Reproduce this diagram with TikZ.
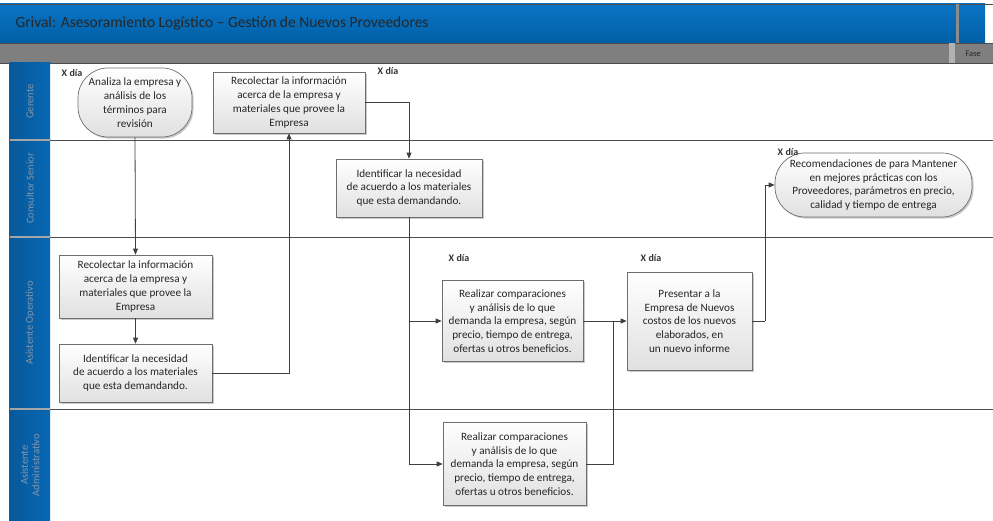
\documentclass[tikz,border=0pt]{standalone}
\usepackage{fontspec}
\setmainfont{Carlito}
\usetikzlibrary{arrows.meta,shadows}

\definecolor{bandtop}{HTML}{0A74C4}
\definecolor{bandbot}{HTML}{005FA6}
\definecolor{lanehead}{HTML}{0868B5}
\definecolor{phasegray}{HTML}{7F7F7F}
\definecolor{rulegray}{HTML}{4D4D4D}
\definecolor{flowline}{HTML}{3F3F3F}
\definecolor{boxline}{HTML}{6E6E6E}
\definecolor{headtext}{HTML}{8596A8}

\tikzset{
  boxbase/.style={draw=boxline, line width=0.7pt, top color=white, bottom color=black!12,
    align=center, inner sep=1pt, text=black!85,
    font=\fontsize{11.2}{13.8}\selectfont,
    drop shadow={shadow xshift=1.6pt, shadow yshift=-1.6pt, fill=black!35, opacity=0.6}},
  task/.style={boxbase, rectangle},
  terminal/.style={boxbase, rectangle, rounded corners=30pt},
  flow/.style={draw=flowline, line width=0.8pt, -{Triangle[length=6pt,width=5pt]}},
  plainflow/.style={draw=flowline, line width=0.8pt},
  duration/.style={font=\fontsize{10}{11}\selectfont\bfseries, text=black!80, inner sep=0pt},
  lanelabel/.style={rotate=90, align=center, text=headtext, font=\fontsize{10.5}{11.5}\selectfont},
  laneline/.style={draw=rulegray, line width=0.9pt}
}

\begin{document}
\begin{tikzpicture}[x=1pt,y=-1pt]
\useasboundingbox (0,0) rectangle (993,521);
\fill[white] (0,0) rectangle (993,521);

% title band
\shade[top color=bandtop, bottom color=bandbot] (0,4) rectangle (985,43);
\draw[rulegray, line width=0.8pt] (0,4) -- (993,4);
\fill[black!45] (956,4) rectangle (959,43);
\node[anchor=west, font=\fontsize{15.5}{17}\selectfont, text=black!85] (title) at (12,23)
  {Grival: Asesoramiento Logístico – Gestión de Nuevos Proveedores};

% phase bar
\fill[phasegray] (0,43) rectangle (993,63);
\draw[rulegray, line width=0.9pt] (0,43) -- (993,43);
\fill[black!30] (949,43) rectangle (955,63);
\node[anchor=west, font=\fontsize{8.5}{9}\selectfont, text=black!85] (phase) at (962,54) {Fase};
\draw[rulegray, line width=0.9pt] (0,63) -- (993,63);

% lane headers
\foreach \ya/\yb in {63/140, 140/237, 237/409, 409/521}{
  \shade[left color=lanehead!85!black, right color=lanehead] (10,\ya) rectangle (50,\yb);
}
\draw[black!35, line width=1.2pt] (10,140) -- (50,140) (10,237) -- (50,237) (10,409) -- (50,409);
\draw[rulegray, line width=0.8pt] (9,63) -- (9,521);
\node[lanelabel] (laneA) at (30,101.5) {Gerente};
\node[lanelabel] (laneB) at (30,188.5) {Consultor Senior};
\node[lanelabel] (laneC) at (30,323) {Asistente Operativo};
\node[lanelabel] (laneD) at (30,465) {Asistente\\Administrativo};

% lane separators
\draw[laneline] (50,140) -- (993,140);
\draw[laneline] (50,237) -- (993,237);
\draw[laneline] (50,409) -- (993,409);

% activities
\node[terminal, minimum width=114pt, minimum height=69pt] (start) at (135,102.5)
  {Analiza la empresa y\\análisis de los\\términos para\\revisión};
\node[task, minimum width=152pt, minimum height=61pt] (ger) at (289,102.5)
  {Recolectar la información\\acerca de la empresa y\\materiales que provee la\\Empresa};
\node[task, minimum width=146pt, minimum height=58pt] (cons) at (409,188)
  {Identificar la necesidad\\de acuerdo a los materiales\\que esta demandando.};
\node[task, minimum width=153pt, minimum height=63pt] (aoA) at (135.5,286.5)
  {Recolectar la información\\acerca de la empresa y\\materiales que provee la\\Empresa};
\node[task, minimum width=153pt, minimum height=58pt] (aoB) at (135.5,373)
  {Identificar la necesidad\\de acuerdo a los materiales\\que esta demandando.};
\node[task, minimum width=141pt, minimum height=81pt] (aoC) at (512.5,321)
  {Realizar comparaciones\\y análisis de lo que\\demanda la empresa, según\\precio, tiempo de entrega,\\ofertas u otros beneficios.};
\node[task, minimum width=143pt, minimum height=83pt] (adm) at (514.5,464)
  {Realizar comparaciones\\y análisis de lo que\\demanda la empresa, según\\precio, tiempo de entrega,\\ofertas u otros beneficios.};
\node[task, minimum width=125pt, minimum height=98pt] (pres) at (689.5,321)
  {Presentar a la\\Empresa de Nuevos\\costos de los nuevos\\elaborados, en\\un nuevo informe};
\node[terminal, minimum width=197pt, minimum height=64pt] (fin) at (873.5,185)
  {Recomendaciones de para Mantener\\en mejores prácticas con los\\Proveedores, parámetros en precio,\\calidad y tiempo de entrega};

% durations
\node[duration] (dA) at (72,73) {X día};
\node[duration] (dB) at (388,71) {X día};
\node[duration] (dC) at (459,258) {X día};
\node[duration] (dD) at (651,258) {X día};
\node[duration] (dE) at (788,152) {X día};

% connectors
\coordinate (merge) at (613,321);
\coordinate (turn) at (765,321);
\draw[flow] (ger.east) -| (cons.north);
\draw[flow] (start.south) -- (aoA.north);
\draw[flow] (aoA.south) -- (aoB.north);
\draw[flow] (aoB.east) -| (ger.south);
\draw[flow] (cons.south) |- (aoC.west);
\draw[flow] (cons.south) |- (adm.west);
\draw[flow] (aoC.east) -- (pres.west);
\draw[plainflow] (adm.east) -| (merge);
\draw[plainflow] (pres.east) -- (turn);
\draw[flow] (turn) |- (fin.west);
\end{tikzpicture}
\end{document}
